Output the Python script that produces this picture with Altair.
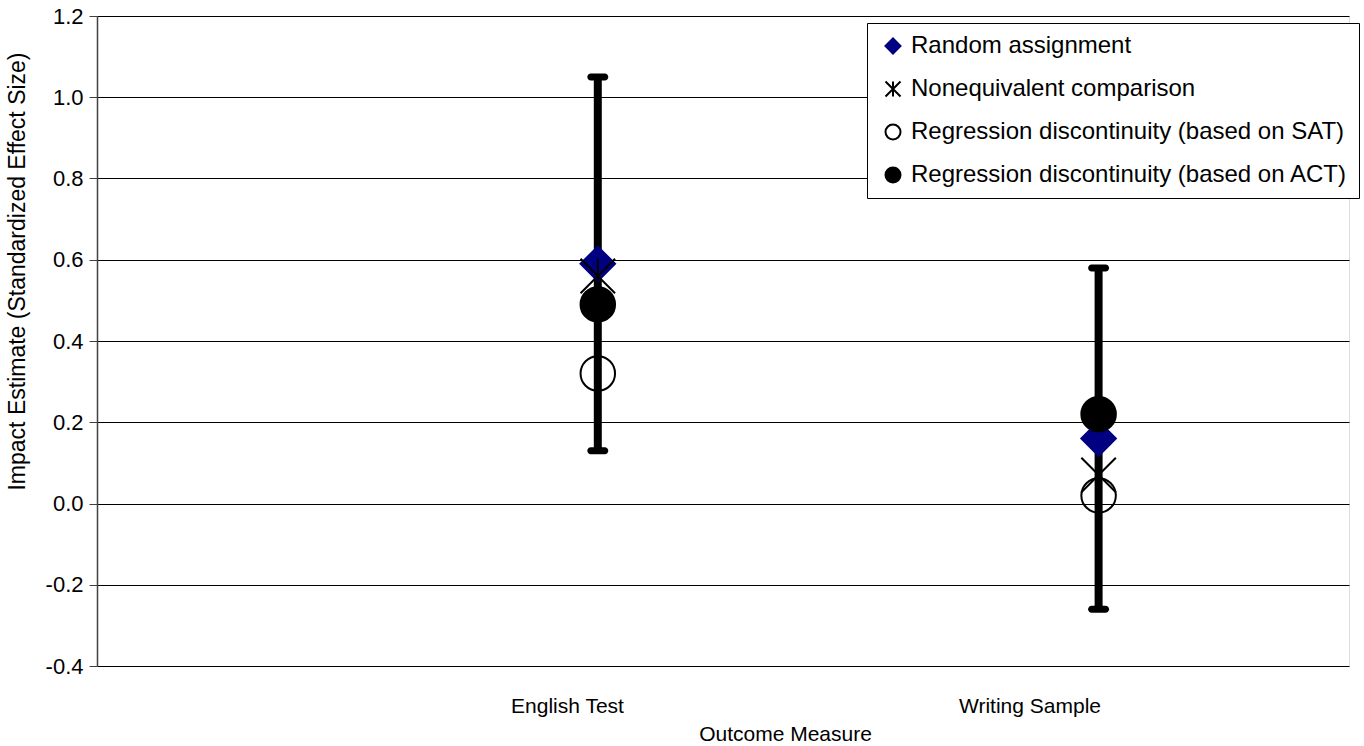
import altair as alt
import pandas as pd

# Outcome measures and the horizontal positions of their estimates
outcomes = ["English Test", "Writing Sample"]
outcome_pos = [1, 2]
# where each outcome's name sits under the axis
outcome_label_pos = [0.9385, 1.862]

# 95% confidence interval of the experimental estimate
ci_low = [0.13, -0.26]
ci_high = [1.05, 0.58]

# Impact estimates by design
series_names = [
    "Random assignment",
    "Nonequivalent comparison",
    "Regression discontinuity (based on SAT)",
    "Regression discontinuity (based on ACT)",
]
random_assignment = [0.59, 0.16]
nonequivalent = [0.56, 0.07]
rd_sat = [0.32, 0.02]
rd_act = [0.49, 0.22]

y_ticks = [-0.4, -0.2, 0.0, 0.2, 0.4, 0.6, 0.8, 1.0, 1.2]

FONT = "Liberation Sans"
STAR = "M-1,-1L1,1M1,-1L-1,1M0,-1L0,1"

ci_df = pd.DataFrame({"pos": outcome_pos, "outcome": outcomes, "lo": ci_low, "hi": ci_high})

rows = []
for rank, (name, vals) in enumerate(zip(series_names, [random_assignment, nonequivalent, rd_sat, rd_act])):
    for p, o, v in zip(outcome_pos, outcomes, vals):
        rows.append({"pos": p, "outcome": o, "series": name, "value": v, "rank": rank})
pts_df = pd.DataFrame(rows)

label_expr = (
    f"datum.value < 1.5 ? '{outcomes[0]}' : '{outcomes[1]}'"
)

x_enc = alt.X(
    "pos:Q",
    scale=alt.Scale(domain=[0, 2.5], nice=False, zero=False),
    axis=alt.Axis(
        title="Outcome Measure", values=outcome_label_pos, labelExpr=label_expr,
        grid=False, domain=False, ticks=False,
        labelBaseline="middle", labelPadding=40,
        labelFont=FONT, labelFontSize=21, labelColor="black",
        titleFont=FONT, titleFontSize=21, titleFontWeight="normal",
        titleColor="black", titleX=688, titleY=68, titleBaseline="middle",
    ),
)
y_scale = alt.Scale(domain=[-0.4, 1.2], nice=False, zero=False)
y_axis = alt.Axis(
    title="Impact Estimate (Standardized Effect Size)",
    values=y_ticks,
    labelExpr="replace(format(datum.value, '.1f'), '\u2212', '-')",
    grid=True, gridColor="black", gridWidth=1,
    domainColor="#404040", domainWidth=1.5, tickColor="#404040", tickSize=8,
    labelPadding=6, labelFont=FONT, labelFontSize=22, labelColor="black",
    titleFont=FONT, titleFontSize=23, titleFontWeight="normal",
    titleColor="black", titleX=-80, titleY=255, titleBaseline="middle",
    titleAlign="center", titleAngle=270,
)

bars = alt.Chart(ci_df).mark_rule(color="black", strokeWidth=8).encode(
    x=x_enc,
    y=alt.Y("lo:Q", scale=y_scale, axis=y_axis),
    y2="hi:Q",
)

cap_style = dict(color="black", orient="horizontal", size=21, thickness=7,
                 cornerRadius=3.5, opacity=1)
caps_lo = alt.Chart(ci_df).mark_tick(**cap_style).encode(x=alt.X("pos:Q"), y=alt.Y("lo:Q"))
caps_hi = alt.Chart(ci_df).mark_tick(**cap_style).encode(x=alt.X("pos:Q"), y=alt.Y("hi:Q"))

legend = alt.Legend(
    title=None, orient="none", legendX=770, legendY=7,
    labelFont=FONT, labelFontSize=24, labelColor="black", labelLimit=700,
    symbolSize=225, symbolStrokeWidth=2, symbolOffset=3, labelOffset=6,
    rowPadding=19, padding=11, fillColor="white", strokeColor="black",
)

points = alt.Chart(pts_df).mark_point(filled=True, opacity=1, size=1190, strokeWidth=2).encode(
    x=alt.X("pos:Q"),
    y=alt.Y("value:Q"),
    shape=alt.Shape("series:N", sort=series_names,
                    scale=alt.Scale(domain=series_names,
                                    range=["diamond", STAR, "circle", "circle"]),
                    legend=legend),
    fill=alt.Fill("series:N", sort=series_names,
                  scale=alt.Scale(domain=series_names,
                                  range=["#000080", "transparent", "transparent", "black"]),
                  legend=legend),
    stroke=alt.Stroke("series:N", sort=series_names,
                      scale=alt.Scale(domain=series_names,
                                      range=["#000080", "black", "black", "black"]),
                      legend=legend),
    order=alt.Order("rank:Q"),
)

chart = alt.layer(bars, caps_lo, caps_hi, points).properties(
    width=1252, height=650,
    autosize=alt.AutoSizeParams(type="none"),
    padding={"left": 97, "top": 16, "right": 15, "bottom": 80},
).configure_view(
    stroke="#808080", strokeWidth=2
).configure(background="white")

chart.save("out.html", embed_options={"renderer": "svg", "actions": False})
